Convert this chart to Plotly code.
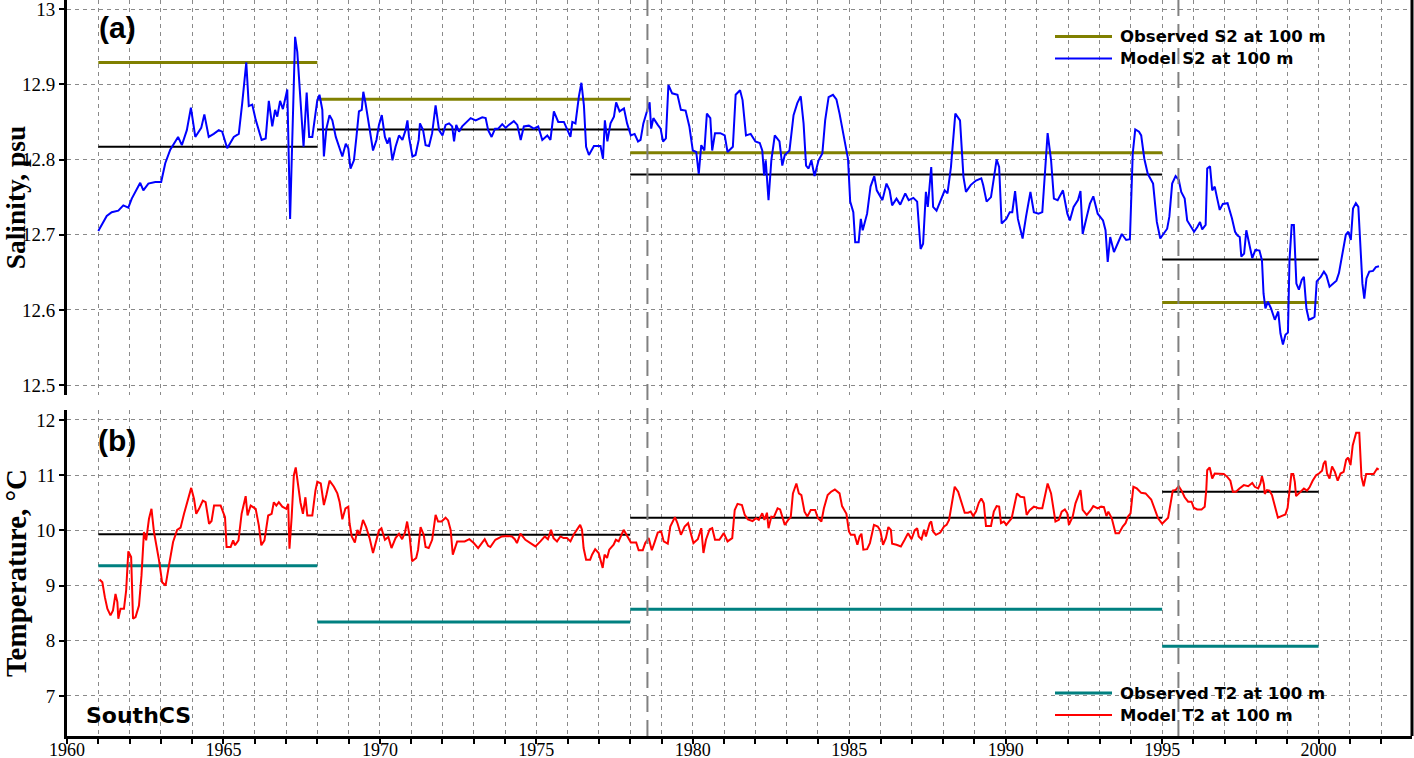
import plotly.graph_objects as go
from plotly.subplots import make_subplots

# ---------------- data ----------------
# Model S2 at 100 m (psu)
S_years = [
    1961.00, 1961.27, 1961.43, 1961.64, 1961.80, 1961.96, 1962.07, 1962.34, 1962.44, 1962.60,
    1962.82, 1963.01, 1963.14, 1963.30, 1963.55, 1963.67, 1963.83, 1963.96, 1964.10, 1964.29,
    1964.39, 1964.53, 1964.69, 1964.85, 1964.96, 1965.12, 1965.33, 1965.49, 1965.60, 1965.73,
    1965.81, 1965.92, 1966.03, 1966.22, 1966.35, 1966.45, 1966.56, 1966.65, 1966.72, 1966.81,
    1966.90, 1967.04, 1967.13, 1967.20, 1967.29, 1967.36, 1967.47, 1967.56, 1967.66, 1967.74,
    1967.84, 1967.93,
    1968.00, 1968.07, 1968.16, 1968.21, 1968.29, 1968.39, 1968.48, 1968.59, 1968.69, 1968.80,
    1968.91, 1968.99, 1969.06, 1969.17, 1969.25, 1969.33, 1969.42, 1969.47, 1969.54, 1969.65,
    1969.78, 1969.89, 1969.97, 1970.06, 1970.16, 1970.24, 1970.31, 1970.40, 1970.50, 1970.61,
    1970.72, 1970.82, 1970.88, 1970.93, 1971.04, 1971.14, 1971.24, 1971.28, 1971.38, 1971.46,
    1971.57, 1971.67, 1971.78, 1971.89, 1972.00, 1972.10, 1972.21, 1972.31, 1972.37, 1972.44,
    1972.53, 1972.63, 1972.74, 1972.90, 1973.06, 1973.27, 1973.38, 1973.46, 1973.57, 1973.68,
    1973.78, 1973.91, 1974.02, 1974.12, 1974.28, 1974.39, 1974.50, 1974.60, 1974.76, 1974.92,
    1975.06, 1975.19, 1975.35, 1975.45, 1975.56, 1975.70, 1975.88, 1975.99, 1976.09, 1976.15,
    1976.25, 1976.36, 1976.44, 1976.52, 1976.59, 1976.68, 1976.84, 1977.05, 1977.13, 1977.19,
    1977.27, 1977.37, 1977.48, 1977.55, 1977.66, 1977.80, 1977.90,
    1978.02, 1978.14, 1978.25, 1978.33, 1978.42, 1978.54, 1978.62, 1978.67, 1978.74, 1978.88,
    1978.97, 1979.05, 1979.14, 1979.22, 1979.34, 1979.51, 1979.62, 1979.77, 1979.89, 1980.00,
    1980.11, 1980.19, 1980.27, 1980.37, 1980.45, 1980.56, 1980.62, 1980.71, 1980.88, 1981.02,
    1981.11, 1981.28, 1981.37, 1981.51, 1981.59, 1981.70, 1981.85, 1982.00, 1982.14, 1982.22,
    1982.28, 1982.33, 1982.42, 1982.51, 1982.62, 1982.77, 1982.86, 1982.94, 1983.09, 1983.22,
    1983.34, 1983.45, 1983.54, 1983.62, 1983.70, 1983.79, 1983.89, 1984.02, 1984.14, 1984.23,
    1984.34, 1984.48, 1984.59, 1984.69, 1984.82, 1984.96, 1985.03, 1985.13, 1985.19, 1985.30,
    1985.37, 1985.43, 1985.57, 1985.68, 1985.80, 1985.88, 1986.06, 1986.19, 1986.29, 1986.37,
    1986.51, 1986.63, 1986.79, 1986.90, 1987.05, 1987.17, 1987.28, 1987.36, 1987.45, 1987.51,
    1987.62, 1987.68, 1987.79, 1987.97, 1988.05, 1988.14, 1988.25, 1988.39, 1988.54, 1988.65,
    1988.73, 1988.88, 1989.05, 1989.22, 1989.28, 1989.39, 1989.53, 1989.62, 1989.71, 1989.79,
    1989.87, 1990.02, 1990.13, 1990.21, 1990.30, 1990.39, 1990.54, 1990.65, 1990.79, 1990.90,
    1991.05, 1991.17, 1991.25, 1991.34, 1991.45, 1991.54, 1991.66, 1991.83, 1991.97, 1992.05,
    1992.17, 1992.31, 1992.39, 1992.46, 1992.59, 1992.69, 1992.80, 1992.94, 1993.11, 1993.19,
    1993.26, 1993.34, 1993.46, 1993.57, 1993.71, 1993.85, 1993.97, 1994.06, 1994.14, 1994.26,
    1994.33, 1994.43, 1994.54, 1994.71, 1994.83, 1994.94,
    1995.05, 1995.16, 1995.23, 1995.32, 1995.43, 1995.53, 1995.61, 1995.72, 1995.80, 1995.91,
    1996.02, 1996.12, 1996.21, 1996.28, 1996.39, 1996.44, 1996.53, 1996.60, 1996.68, 1996.76,
    1996.84, 1996.94, 1997.09, 1997.23, 1997.33, 1997.41, 1997.48, 1997.53, 1997.62, 1997.69,
    1997.77, 1997.88, 1997.98, 1998.11, 1998.19, 1998.24, 1998.30, 1998.38, 1998.48, 1998.60,
    1998.71, 1998.78, 1998.86, 1998.94, 1999.02, 1999.07, 1999.14, 1999.21, 1999.29, 1999.37,
    1999.46, 1999.53, 1999.61, 1999.69, 1999.80, 1999.87, 1999.94, 2000.07, 2000.17, 2000.25,
    2000.35, 2000.46, 2000.57, 2000.65, 2000.76, 2000.87, 2000.95, 2001.03, 2001.10, 2001.19,
    2001.27, 2001.35, 2001.40, 2001.46, 2001.53, 2001.62, 2001.74, 2001.83, 2001.93,
]
S_model = [
    12.705, 12.725, 12.730, 12.732, 12.739, 12.736, 12.748, 12.769, 12.759, 12.768,
    12.770, 12.770, 12.795, 12.813, 12.830, 12.819, 12.839, 12.869, 12.830, 12.842,
    12.860, 12.830, 12.834, 12.839, 12.837, 12.815, 12.830, 12.834, 12.875, 12.929,
    12.871, 12.873, 12.853, 12.826, 12.828, 12.878, 12.844, 12.866, 12.857, 12.878,
    12.867, 12.893, 12.721, 12.817, 12.963, 12.943, 12.875, 12.817, 12.889, 12.830,
    12.830, 12.862,
    12.879, 12.886, 12.866, 12.804, 12.841, 12.859, 12.852, 12.830, 12.817, 12.804,
    12.821, 12.815, 12.788, 12.799, 12.830, 12.864, 12.866, 12.890, 12.875, 12.844,
    12.812, 12.826, 12.846, 12.859, 12.830, 12.821, 12.829, 12.799, 12.817, 12.832,
    12.826, 12.839, 12.852, 12.830, 12.804, 12.806, 12.826, 12.848, 12.839, 12.819,
    12.818, 12.835, 12.872, 12.839, 12.832, 12.846, 12.848, 12.844, 12.824, 12.846,
    12.837, 12.844, 12.848, 12.855, 12.852, 12.856, 12.855, 12.839, 12.830, 12.841,
    12.841, 12.847, 12.842, 12.846, 12.851, 12.846, 12.826, 12.844, 12.845, 12.841,
    12.844, 12.826, 12.832, 12.826, 12.864, 12.850, 12.850, 12.839, 12.830, 12.850,
    12.848, 12.884, 12.902, 12.872, 12.817, 12.806, 12.818, 12.818, 12.801, 12.852,
    12.824, 12.848, 12.857, 12.876, 12.864, 12.868, 12.848,
    12.832, 12.834, 12.824, 12.826, 12.848, 12.866, 12.876, 12.841, 12.855, 12.846,
    12.841, 12.824, 12.828, 12.899, 12.888, 12.886, 12.866, 12.865, 12.844, 12.812,
    12.810, 12.781, 12.819, 12.812, 12.861, 12.855, 12.812, 12.835, 12.835, 12.832,
    12.810, 12.817, 12.886, 12.892, 12.879, 12.832, 12.834, 12.824, 12.822, 12.812,
    12.779, 12.799, 12.746, 12.799, 12.832, 12.824, 12.792, 12.806, 12.812, 12.859,
    12.875, 12.884, 12.848, 12.792, 12.788, 12.799, 12.778, 12.799, 12.808, 12.852,
    12.883, 12.886, 12.880, 12.861, 12.830, 12.801, 12.744, 12.730, 12.690, 12.690,
    12.721, 12.706, 12.728, 12.764, 12.778, 12.759, 12.746, 12.768, 12.759, 12.739,
    12.748, 12.740, 12.755, 12.746, 12.749, 12.744, 12.681, 12.688, 12.757, 12.737,
    12.790, 12.737, 12.732, 12.750, 12.759, 12.755, 12.790, 12.861, 12.852, 12.777,
    12.757, 12.766, 12.772, 12.775, 12.766, 12.744, 12.750, 12.775, 12.800, 12.790,
    12.715, 12.721, 12.730, 12.730, 12.758, 12.721, 12.695, 12.724, 12.757, 12.730,
    12.728, 12.730, 12.786, 12.835, 12.799, 12.748, 12.746, 12.759, 12.728, 12.719,
    12.737, 12.746, 12.758, 12.701, 12.724, 12.741, 12.751, 12.728, 12.719, 12.706,
    12.664, 12.697, 12.677, 12.688, 12.701, 12.693, 12.694, 12.808, 12.840, 12.837,
    12.832, 12.801, 12.781, 12.768, 12.717, 12.695,
    12.702, 12.708, 12.724, 12.768, 12.778, 12.773, 12.757, 12.748, 12.719, 12.711,
    12.704, 12.710, 12.717, 12.707, 12.713, 12.788, 12.791, 12.759, 12.764, 12.748,
    12.733, 12.741, 12.742, 12.722, 12.704, 12.699, 12.697, 12.671, 12.675, 12.706,
    12.691, 12.669, 12.680, 12.679, 12.666, 12.622, 12.602, 12.611, 12.602, 12.587,
    12.598, 12.569, 12.554, 12.567, 12.570, 12.666, 12.713, 12.713, 12.635, 12.627,
    12.640, 12.644, 12.602, 12.587, 12.589, 12.591, 12.638, 12.644, 12.651, 12.646,
    12.631, 12.635, 12.639, 12.649, 12.675, 12.700, 12.704, 12.693, 12.735, 12.742,
    12.737, 12.684, 12.635, 12.615, 12.642, 12.651, 12.652, 12.657, 12.658,
]

# Model T2 at 100 m (deg C)
T_years = [
    1961.04, 1961.13, 1961.21, 1961.29, 1961.39, 1961.47, 1961.55, 1961.61, 1961.64, 1961.71,
    1961.82, 1961.89, 1961.96, 1962.05, 1962.11, 1962.19, 1962.30, 1962.38, 1962.46, 1962.53,
    1962.62, 1962.70, 1962.78, 1962.94, 1963.04, 1963.15, 1963.26, 1963.39, 1963.52, 1963.63,
    1963.74, 1963.88, 1963.97, 1964.06, 1964.13, 1964.22, 1964.34, 1964.43, 1964.54, 1964.62,
    1964.70, 1964.91, 1965.05, 1965.10, 1965.23, 1965.31, 1965.37, 1965.48, 1965.58, 1965.71,
    1965.77, 1965.87, 1966.03, 1966.13, 1966.21, 1966.31, 1966.43, 1966.54, 1966.61, 1966.69,
    1966.77, 1966.88, 1967.01, 1967.07, 1967.11, 1967.18, 1967.25, 1967.31, 1967.39, 1967.46,
    1967.54, 1967.62, 1967.68, 1967.84, 1967.94,
    1968.00, 1968.11, 1968.21, 1968.29, 1968.39, 1968.53, 1968.64, 1968.71, 1968.80, 1968.90,
    1968.99, 1969.03, 1969.10, 1969.20, 1969.28, 1969.35, 1969.46, 1969.56, 1969.67, 1969.78,
    1969.88, 1969.97, 1970.05, 1970.16, 1970.27, 1970.37, 1970.50, 1970.61, 1970.71, 1970.80,
    1970.87, 1970.95, 1971.03, 1971.16, 1971.22, 1971.30, 1971.40, 1971.46, 1971.56, 1971.67,
    1971.78, 1971.86, 1971.97, 1972.10, 1972.18, 1972.26, 1972.33, 1972.47, 1972.71, 1972.86,
    1973.00, 1973.14, 1973.35, 1973.46, 1973.53, 1973.69, 1973.90, 1974.06, 1974.22, 1974.31,
    1974.38, 1974.49, 1974.65, 1974.81, 1974.97, 1975.13, 1975.27, 1975.37, 1975.47, 1975.55,
    1975.66, 1975.77, 1975.87, 1975.98, 1976.09, 1976.19, 1976.30, 1976.40, 1976.46, 1976.51,
    1976.59, 1976.72, 1976.78, 1976.88, 1976.99, 1977.07, 1977.12, 1977.18, 1977.26, 1977.33,
    1977.47, 1977.54, 1977.63, 1977.79, 1977.89,
    1978.02, 1978.19, 1978.27, 1978.40, 1978.48, 1978.59, 1978.69, 1978.77, 1978.88, 1978.99,
    1979.07, 1979.20, 1979.28, 1979.43, 1979.51, 1979.62, 1979.74, 1979.85, 1979.93, 1980.02,
    1980.16, 1980.27, 1980.34, 1980.42, 1980.54, 1980.62, 1980.71, 1980.85, 1980.99, 1981.11,
    1981.26, 1981.34, 1981.43, 1981.57, 1981.66, 1981.76, 1981.91, 1982.02, 1982.11, 1982.22,
    1982.29, 1982.37, 1982.42, 1982.51, 1982.59, 1982.71, 1982.79, 1982.88, 1982.94, 1983.05,
    1983.13, 1983.20, 1983.31, 1983.39, 1983.47, 1983.57, 1983.66, 1983.77, 1983.91, 1984.00,
    1984.11, 1984.19, 1984.31, 1984.42, 1984.54, 1984.69, 1984.77, 1984.91, 1984.99, 1985.05,
    1985.17, 1985.26, 1985.33, 1985.39, 1985.45, 1985.57, 1985.66, 1985.79, 1985.91, 1985.99,
    1986.08, 1986.17, 1986.25, 1986.33, 1986.37, 1986.51, 1986.65, 1986.77, 1986.88, 1986.99,
    1987.09, 1987.17, 1987.22, 1987.31, 1987.39, 1987.45, 1987.57, 1987.62, 1987.68, 1987.77,
    1987.91, 1988.03, 1988.11, 1988.19, 1988.29, 1988.37, 1988.48, 1988.59, 1988.69, 1988.80,
    1988.88, 1988.96, 1989.05, 1989.14, 1989.22, 1989.30, 1989.37, 1989.53, 1989.62, 1989.71,
    1989.79, 1989.85, 1989.94, 1990.02, 1990.19, 1990.28, 1990.36, 1990.47, 1990.59, 1990.67,
    1990.76, 1990.90, 1991.05, 1991.17, 1991.25, 1991.34, 1991.45, 1991.54, 1991.59, 1991.70,
    1991.79, 1991.89, 1991.97, 1992.02, 1992.14, 1992.23, 1992.31, 1992.39, 1992.46, 1992.59,
    1992.71, 1992.80, 1992.94, 1993.05, 1993.14, 1993.22, 1993.28, 1993.39, 1993.51, 1993.62,
    1993.74, 1993.83, 1993.91, 1993.99, 1994.08, 1994.19, 1994.33, 1994.47, 1994.65, 1994.79,
    1994.87,
    1995.00, 1995.11, 1995.19, 1995.27, 1995.34, 1995.43, 1995.53, 1995.62, 1995.72, 1995.83,
    1995.94, 1996.01, 1996.12, 1996.26, 1996.36, 1996.41, 1996.44, 1996.52, 1996.60, 1996.68,
    1996.86, 1996.97, 1997.08, 1997.18, 1997.26, 1997.36, 1997.47, 1997.61, 1997.75, 1997.88,
    1997.96, 1998.07, 1998.14, 1998.19, 1998.25, 1998.28, 1998.35, 1998.43, 1998.51, 1998.57,
    1998.62, 1998.70, 1998.81, 1998.94, 1999.01, 1999.07, 1999.13, 1999.19, 1999.24, 1999.28,
    1999.37, 1999.45, 1999.53, 1999.63, 1999.71, 1999.81, 1999.92, 2000.01, 2000.11, 2000.16,
    2000.22, 2000.27, 2000.35, 2000.43, 2000.52, 2000.61, 2000.70, 2000.80, 2000.88, 2000.94,
    2001.02, 2001.09, 2001.20, 2001.30, 2001.37, 2001.44, 2001.52, 2001.66, 2001.76, 2001.87,
    2001.92,
]
T_model = [
    9.11, 9.06, 8.79, 8.58, 8.46, 8.55, 8.85, 8.70, 8.40, 8.58,
    8.58, 8.91, 9.62, 9.52, 8.40, 8.43, 8.64, 9.18, 9.97, 9.82,
    10.21, 10.39, 9.97, 9.46, 9.06, 9.00, 9.37, 9.79, 10.01, 10.05,
    10.30, 10.60, 10.77, 10.57, 10.30, 10.39, 10.54, 10.51, 10.12, 10.17,
    10.45, 10.45, 10.24, 9.70, 9.70, 9.82, 9.73, 9.82, 10.30, 10.62,
    10.27, 10.45, 10.39, 10.09, 9.73, 9.82, 10.27, 10.30, 10.51, 10.45,
    10.51, 10.43, 10.39, 10.48, 9.67, 10.24, 11.00, 11.14, 10.82, 10.51,
    10.30, 10.60, 10.27, 10.27, 10.72,
    10.88, 10.85, 10.46, 10.64, 10.90, 10.79, 10.67, 10.52, 10.20, 10.40,
    10.43, 10.13, 9.89, 9.78, 10.01, 9.92, 10.19, 10.06, 9.86, 9.59,
    9.80, 10.00, 10.04, 9.83, 9.88, 9.68, 9.86, 9.94, 9.84, 9.96,
    10.16, 9.89, 9.44, 9.50, 9.65, 10.06, 9.92, 9.70, 9.68, 9.83,
    10.28, 10.16, 10.16, 10.23, 10.18, 10.01, 9.56, 9.80, 9.80, 9.84,
    9.77, 9.68, 9.84, 9.72, 9.70, 9.83, 9.89, 9.90, 9.89, 9.84,
    9.77, 9.94, 9.83, 9.77, 9.71, 9.80, 9.89, 9.84, 10.01, 9.86,
    9.80, 9.89, 9.86, 9.86, 9.80, 9.92, 10.02, 10.10, 10.01, 9.68,
    9.47, 9.47, 9.56, 9.66, 9.59, 9.44, 9.32, 9.56, 9.50, 9.65,
    9.74, 9.83, 9.80, 10.01, 9.92,
    9.78, 9.78, 9.64, 9.64, 9.77, 9.86, 9.64, 9.77, 9.96, 9.98,
    9.80, 9.76, 10.07, 10.24, 10.13, 9.92, 10.07, 10.13, 9.95, 9.77,
    9.84, 10.04, 9.59, 9.83, 10.02, 10.04, 9.83, 9.83, 9.95, 9.80,
    9.86, 10.37, 10.48, 10.46, 10.28, 10.20, 10.17, 10.22, 10.19, 10.31,
    10.19, 10.32, 10.04, 10.25, 10.24, 10.40, 10.38, 10.19, 10.10, 10.19,
    10.24, 10.67, 10.85, 10.67, 10.64, 10.34, 10.25, 10.37, 10.37, 10.22,
    10.16, 10.40, 10.64, 10.70, 10.74, 10.67, 10.44, 10.30, 9.98, 9.92,
    9.92, 9.74, 9.89, 9.94, 9.65, 9.66, 9.77, 10.10, 10.07, 10.00,
    9.74, 9.86, 10.06, 10.01, 9.76, 9.74, 9.71, 9.83, 9.95, 9.84,
    10.00, 10.04, 9.89, 9.84, 10.01, 9.89, 10.13, 10.16, 9.98, 9.92,
    9.96, 10.07, 10.10, 10.19, 10.55, 10.79, 10.70, 10.49, 10.32, 10.32,
    10.34, 10.26, 10.34, 10.50, 10.58, 10.49, 10.08, 10.08, 10.34, 10.44,
    10.43, 10.13, 10.16, 10.10, 10.22, 10.46, 10.67, 10.61, 10.60, 10.28,
    10.36, 10.43, 10.40, 10.40, 10.62, 10.85, 10.67, 10.28, 10.16, 10.19,
    10.34, 10.38, 10.31, 10.10, 10.25, 10.49, 10.62, 10.73, 10.37, 10.28,
    10.36, 10.44, 10.40, 10.43, 10.42, 10.26, 10.34, 10.22, 9.95, 9.95,
    10.07, 10.13, 10.25, 10.31, 10.79, 10.76, 10.68, 10.67, 10.56, 10.34,
    10.22,
    10.12, 10.18, 10.23, 10.49, 10.72, 10.73, 10.80, 10.72, 10.60, 10.52,
    10.52, 10.41, 10.38, 10.38, 10.43, 10.73, 11.09, 11.14, 10.94, 11.03,
    11.03, 11.02, 10.97, 10.90, 10.70, 10.70, 10.76, 10.82, 10.80, 10.86,
    10.79, 10.76, 10.85, 10.98, 10.84, 10.66, 10.73, 10.72, 10.64, 10.52,
    10.38, 10.23, 10.26, 10.29, 10.41, 10.73, 11.02, 11.02, 10.88, 10.62,
    10.67, 10.73, 10.76, 10.72, 10.78, 10.90, 11.00, 11.03, 11.08, 11.21,
    11.26, 11.03, 10.94, 11.16, 11.06, 10.90, 11.03, 11.06, 11.28, 11.32,
    11.18, 11.54, 11.77, 11.77, 10.97, 10.80, 11.02, 11.02, 11.02, 11.12,
    11.10,
]

# Period means (observed and model) for each sampling period
period_start = [1961, 1968, 1978, 1995]
period_end = [1968, 1978, 1995, 2000]
obs_S = [12.929, 12.880, 12.809, 12.610]
model_S_mean = [12.817, 12.840, 12.780, 12.667]
obs_T = [9.36, 8.34, 8.57, 7.90]
model_T_mean = [9.93, 9.92, 10.23, 10.70]

split_years = [1978.55, 1995.52]
x_ticks = [1960, 1965, 1970, 1975, 1980, 1985, 1990, 1995, 2000]
S_ticks = [12.5, 12.6, 12.7, 12.8, 12.9, 13.0]
S_tick_labels = ["12.5", "12.6", "12.7", "12.8", "12.9", "13"]
T_ticks = [7, 8, 9, 10, 11, 12]


def segments(values):
    xs, ys = [], []
    for a, b, v in zip(period_start, period_end, values):
        xs += [a, b, None]
        ys += [v, v, None]
    return xs, ys


# ---------------- figure ----------------
OLIVE = "#808000"
BLUE = "#0000FF"
TEAL = "#008080"
RED = "#FF0000"
GRID = "#8a8a8a"
SERIF = "Liberation Serif"
SANS = "Liberation Sans"
VERD = "DejaVu Sans"

fig = make_subplots(rows=2, cols=1, shared_xaxes=True)

xs, ys = segments(obs_S)
fig.add_trace(go.Scatter(x=xs, y=ys, mode="lines", name="Observed S2 at 100 m",
                         line=dict(color=OLIVE, width=3)), row=1, col=1)
xs, ys = segments(model_S_mean)
fig.add_trace(go.Scatter(x=xs, y=ys, mode="lines", name="Model S2 mean",
                         line=dict(color="black", width=2)), row=1, col=1)
fig.add_trace(go.Scatter(x=S_years, y=S_model, mode="lines", name="Model S2 at 100 m",
                         line=dict(color=BLUE, width=2)), row=1, col=1)

xs, ys = segments(obs_T)
fig.add_trace(go.Scatter(x=xs, y=ys, mode="lines", name="Observed T2 at 100 m",
                         line=dict(color=TEAL, width=3)), row=2, col=1)
xs, ys = segments(model_T_mean)
fig.add_trace(go.Scatter(x=xs, y=ys, mode="lines", name="Model T2 mean",
                         line=dict(color="black", width=2)), row=2, col=1)
fig.add_trace(go.Scatter(x=T_years, y=T_model, mode="lines", name="Model T2 at 100 m",
                         line=dict(color=RED, width=2)), row=2, col=1)

W, H = 1414, 758
ML, MR, MT, MB = 67, 2, 0, 22
PH = H - MT - MB
PW = W - ML - MR


def px(xp):
    return (xp - ML) / PW


def py(yp):
    return 1 - (yp - MT) / PH


xcommon = dict(
    range=[1960, 1960 + PW / 31.29],
    tickvals=x_ticks,
    automargin=False,
    showgrid=True, gridcolor=GRID, gridwidth=1, griddash="4px,4px",
    minor=dict(dtick=1, tick0=1960, showgrid=True, gridcolor=GRID, gridwidth=1,
               griddash="4px,4px"),
    zeroline=False,
)
fig.update_xaxes(**xcommon)
fig.update_xaxes(row=1, col=1, showticklabels=False, ticks="", showline=False)
fig.update_xaxes(row=2, col=1, showline=True, linecolor="black", linewidth=3,
                 ticks="outside", ticklen=5, tickwidth=2, tickcolor="black",
                 minor_ticks="outside", minor_ticklen=5, minor_tickwidth=2,
                 minor_tickcolor="black", ticklabelstandoff=-10,
                 ticklabeloverflow="allow",
                 tickfont=dict(family=SERIF, size=18, color="black"))

ycommon = dict(showgrid=True, gridcolor=GRID, gridwidth=1, griddash="4px,4px",
               automargin=False, ticklabeloverflow="allow",
               zeroline=False, showline=True, linecolor="black", linewidth=3,
               ticks="outside", ticklen=5, tickwidth=2, tickcolor="black",
               tickfont=dict(family=SERIF, size=19, color="black"))
fig.update_yaxes(row=1, col=1, range=[12.487, 13.012], tickvals=S_ticks,
                 ticktext=S_tick_labels,
                 domain=[py(395), 1.0],
                 title=dict(text="Salinity, psu", standoff=3,
                            font=dict(family=SERIF, size=27.5, color="black", weight="bold")),
                 **ycommon)
fig.update_yaxes(row=2, col=1, range=[6.275, 12.181], tickvals=T_ticks,
                 domain=[0.0, py(410)],
                 title=dict(text="Temperature, °C", standoff=15,
                            font=dict(family=SERIF, size=29, color="black", weight="bold")),
                 **ycommon)

shapes = []
for yr in split_years:
    shapes.append(dict(type="line", xref="x", yref="paper", x0=yr, x1=yr, y0=0, y1=1,
                       line=dict(color="#808080", width=2, dash="16px,8px")))
shapes.append(dict(type="line", xref="paper", yref="paper", x0=1, x1=1, y0=0, y1=1,
                   line=dict(color="black", width=3)))

legend_rows = [
    ("Observed S2 at 100 m", OLIVE, 3, 36.5),
    ("Model S2 at 100 m", BLUE, 2, 58.5),
    ("Observed T2 at 100 m", TEAL, 3, 693),
    ("Model T2 at 100 m", RED, 2, 715),
]
annotations = []
for text, col, w, yp in legend_rows:
    shapes.append(dict(type="line", xref="paper", yref="paper", x0=px(1055), x1=px(1112),
                       y0=py(yp), y1=py(yp), line=dict(color=col, width=w)))
    annotations.append(dict(text=text, xref="paper", yref="paper", x=px(1118), y=py(yp),
                            xanchor="left", yanchor="middle", showarrow=False,
                            font=dict(family=VERD, size=16.5, color="black", weight="bold")))

annotations += [
    dict(text="(a)", xref="paper", yref="paper", x=px(117), y=py(27), showarrow=False,
         xanchor="center", yanchor="middle",
         font=dict(family=SANS, size=30, color="black", weight="bold")),
    dict(text="(b)", xref="paper", yref="paper", x=px(117), y=py(440), showarrow=False,
         xanchor="center", yanchor="middle",
         font=dict(family=SANS, size=30, color="black", weight="bold")),
    dict(text="SouthCS", xref="paper", yref="paper", x=px(138), y=py(715), showarrow=False,
         xanchor="center", yanchor="middle",
         font=dict(family=VERD, size=22, color="black", weight="bold")),
]

fig.update_layout(
    width=W, height=H,
    margin=dict(l=ML, r=MR, t=MT, b=MB, autoexpand=False),
    paper_bgcolor="white", plot_bgcolor="white",
    showlegend=False,
    shapes=shapes, annotations=annotations,
)

fig.write_html(
    "out.html",
    config={"displayModeBar": False},
    post_script="document.body.style.margin='0';document.body.style.padding='0';"
                "document.body.style.overflow='hidden';",
)
